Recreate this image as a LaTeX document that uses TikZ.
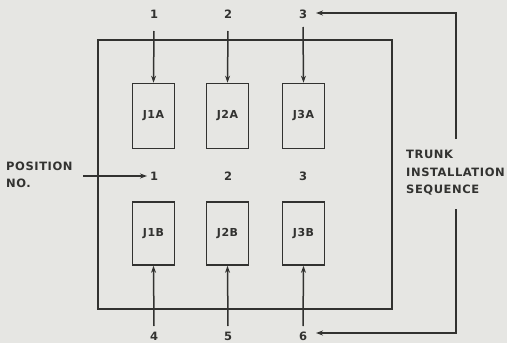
\documentclass[tikz,border=0pt]{standalone}
\usepackage{fontspec}
\setmainfont{DejaVu Sans}[LetterSpace=5]
\usetikzlibrary{arrows.meta}
\definecolor{bg}{RGB}{230,230,227}
\definecolor{ink}{RGB}{50,50,48}
\tikzset{
  lbl/.style={font=\fontsize{11.5}{17.5}\selectfont\bfseries, text=ink, inner sep=0pt},
  jbox/.style={draw=ink, line width=1.6pt, minimum width=42pt, minimum height=65pt, inner sep=0pt, font=\fontsize{11}{12}\selectfont\bfseries, text=ink},
  conn/.style={draw=ink, line width=1.5pt, -{Stealth[length=7pt,width=5pt]}},
  wire/.style={draw=ink, line width=1.6pt}
}
\begin{document}
\begin{tikzpicture}[x=1pt,y=-1pt]
\fill[bg] (0,0) rectangle (507,343);
\useasboundingbox (0,0) rectangle (507,343);
% frame
\draw[wire] (98,40) rectangle (392,309);
% boxes
\node[jbox] (j1a) at (153.5,116) {J1A};
\node[jbox] (j2a) at (227.5,116) {J2A};
\node[jbox] (j3a) at (303.5,116) {J3A};
\node[jbox, minimum height=63pt] (j1b) at (153.5,233.5) {J1B};
\node[jbox, minimum height=63pt] (j2b) at (227.5,233.5) {J2B};
\node[jbox, minimum height=63pt] (j3b) at (303.5,233.5) {J3B};
% top labels
\node[lbl] (t1) at (154,14) {1};
\node[lbl] (t2) at (228,14) {2};
\node[lbl] (t3) at (303,14) {3};
% bottom labels
\node[lbl] (b4) at (154,336) {4};
\node[lbl] (b5) at (228,336) {5};
\node[lbl] (b6) at (303,336) {6};
% middle labels
\node[lbl] (m1) at (154,176) {1};
\node[lbl] (m2) at (228,176) {2};
\node[lbl] (m3) at (303,176) {3};
% start coordinates
\coordinate (s1) at (154,31);
\coordinate (s2) at (228,31);
\coordinate (s3) at (303,27);
\coordinate (e4) at (154,326);
\coordinate (e5) at (228,326);
\coordinate (e6) at (303,326);
\draw[conn] (s1) -- (j1a.north);
\draw[conn] (s2) -- (j2a.north);
\draw[conn] (s3) -- (j3a.north);
\draw[conn] (e4) -- (j1b.south);
\draw[conn] (e5) -- (j2b.south);
\draw[conn] (e6) -- (j3b.south);
% position no.
\node[lbl, anchor=west, align=left] (pos) at (6,175) {POSITION\\NO.};
\coordinate (p0) at (83,176);
\coordinate (p1) at (147,176);
\draw[conn] (p0) -- (p1);
% trunk installation sequence
\node[lbl, anchor=west, align=left] (trunk) at (406,173) {TRUNK\\INSTALLATION\\SEQUENCE};
\coordinate (rt) at (456,139);
\coordinate (rtc) at (456,13);
\coordinate (at3) at (316,13);
\coordinate (rb) at (456,209);
\coordinate (rbc) at (456,333);
\coordinate (at6) at (316,333);
\draw[conn] (rt) -- (rtc) -- (at3);
\draw[conn] (rb) -- (rbc) -- (at6);
\end{tikzpicture}
\end{document}
